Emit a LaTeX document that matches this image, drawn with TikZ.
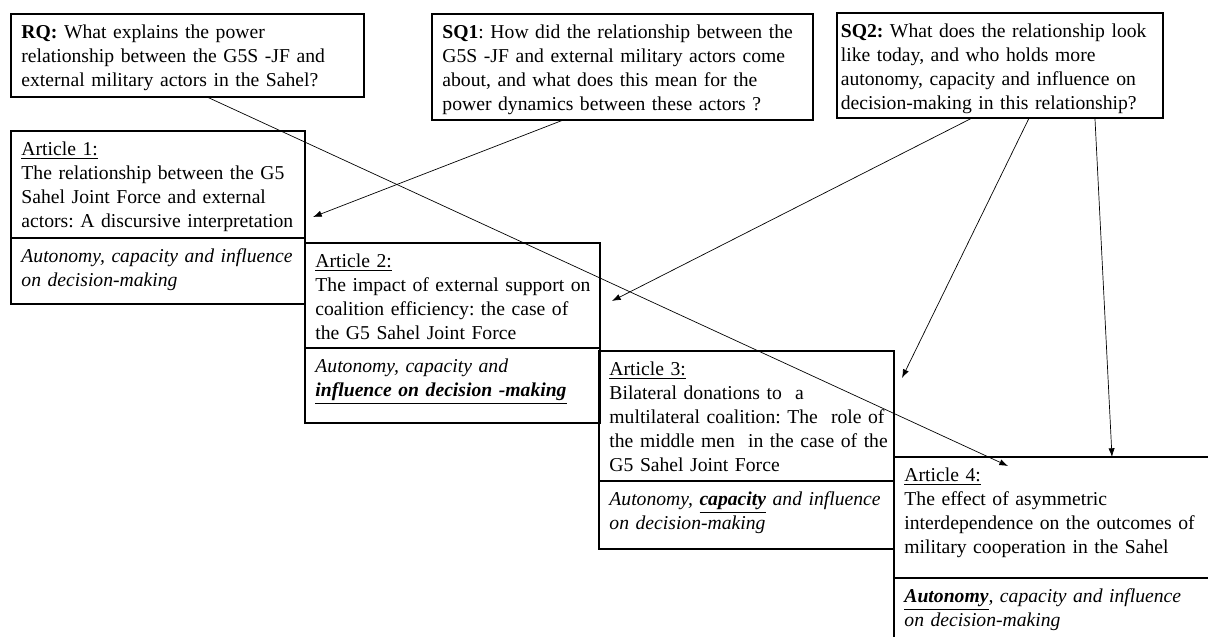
\documentclass[tikz,border=0pt]{standalone}
\usepackage{fontspec}
\setmainfont{Liberation Serif}
\usepackage{tikz}
\usetikzlibrary{arrows.meta, positioning, calc}
\frenchspacing
\tikzset{
  qbox/.style={rectangle, draw, line width=0.8pt, inner sep=0pt, outer sep=0pt, anchor=north west},
  abox/.style={qbox},
  txt/.style={anchor=north west, align=left, text width=260pt, inner xsep=5.8pt, inner ysep=6pt,
    font=\fontsize{11.3}{13.8}\selectfont},
  kwtxt/.style={txt, font=\fontsize{11.3}{13.8}\selectfont\itshape},
  arrow/.style={-{Latex[length=5pt, width=3.6pt]}, line width=0.4pt}
}

\begin{document}
\begin{tikzpicture}[x=0.575pt, y=-0.575pt]
  \useasboundingbox (0,0) rectangle (1208,637);
  \clip (0,0) rectangle (1208,637);
  % research questions
  \node[qbox, minimum width=203pt, minimum height=47.7pt] (rq) at (11,14) {};
  \node[txt] (rqt) at (rq.north west) {\textbf{RQ:} What explains the power\\relationship between the G5S -JF and\\external military actors in the Sahel?};
  \node[qbox, minimum width=219.1pt, minimum height=61pt] (sq1) at (432,14) {};
  \node[txt] (sq1t) at (sq1.north west) {\textbf{SQ1}: How did the relationship between the\\G5S -JF and external military actors come\\about, and what does this mean for the\\power dynamics between these actors ?};
  \node[qbox, minimum width=187.5pt, minimum height=60.4pt] (sq2) at (837,13) {};
  \node[txt, inner xsep=2pt] (sq2t) at (sq2.north west) {\textbf{SQ2:} What does the relationship look\\like today, and who holds more\\autonomy, capacity and influence on\\decision-making in this relationship?};
  % articles
  \node[abox, minimum width=169.1pt, minimum height=61.5pt] (art1) at (11,131) {};
  \node[abox, minimum width=169.1pt, minimum height=38pt] (art1k) at (art1.south west) {};
  \node[txt] (art1t) at (art1.north west) {\underline{Article 1:}\\The relationship between the G5\\Sahel Joint Force and external\\actors: A discursive interpretation};
  \node[kwtxt] (art1kt) at (art1k.north west) {Autonomy, capacity and influence\\on decision-making};
  \node[abox, minimum width=169.6pt, minimum height=60.4pt] (art2) at (305,243) {};
  \node[abox, minimum width=169.6pt, minimum height=43.1pt] (art2k) at (art2.south west) {};
  \node[txt] (art2t) at (art2.north west) {\underline{Article 2:}\\The impact of external support on\\coalition efficiency: the case of\\the G5 Sahel Joint Force};
  \node[kwtxt] (art2kt) at (art2k.north west) {Autonomy, capacity and\\\underline{\textbf{influence on decision -making}}};
  \node[abox, minimum width=169.6pt, minimum height=74.8pt] (art3) at (599,351) {};
  \node[abox, minimum width=169.6pt, minimum height=39.1pt] (art3k) at (art3.south west) {};
  \node[txt] (art3t) at (art3.north west) {\underline{Article 3:}\\Bilateral donations to \ a\\multilateral coalition: The \ role of\\the middle men \ in the case of the\\G5 Sahel Joint Force};
  \node[kwtxt] (art3kt) at (art3k.north west) {Autonomy, \underline{\textbf{capacity}} and influence\\on decision-making};
  \node[abox, minimum width=189.8pt, minimum height=69.6pt] (art4) at (894,457) {};
  \node[abox, minimum width=189.8pt, minimum height=41.4pt] (art4k) at (art4.south west) {};
  \node[txt] (art4t) at (art4.north west) {\underline{Article 4:}\\The effect of asymmetric\\interdependence on the outcomes of\\military cooperation in the Sahel};
  \node[kwtxt] (art4kt) at (art4k.north west) {\underline{\textbf{Autonomy}}, capacity and influence\\on decision-making};
  % arrow ends
  \coordinate (in1) at (313,217);
  \coordinate (in2) at (612,301);
  \coordinate (in3) at (902,378);
  \coordinate (in4) at (1112,457);
  \coordinate (in5) at (1008,466);
  \draw[arrow] ($(sq1.south west)!0.344!(sq1.south east)$) -- (in1);
  \draw[arrow] ($(rq.south west)!0.555!(rq.south east)$) -- (in5);
  \draw[arrow] ($(sq2.south west)!0.414!(sq2.south east)$) -- (in2);
  \draw[arrow] ($(sq2.south west)!0.589!(sq2.south east)$) -- (in3);
  \draw[arrow] ($(sq2.south west)!0.791!(sq2.south east)$) -- (in4);
\end{tikzpicture}
\end{document}
